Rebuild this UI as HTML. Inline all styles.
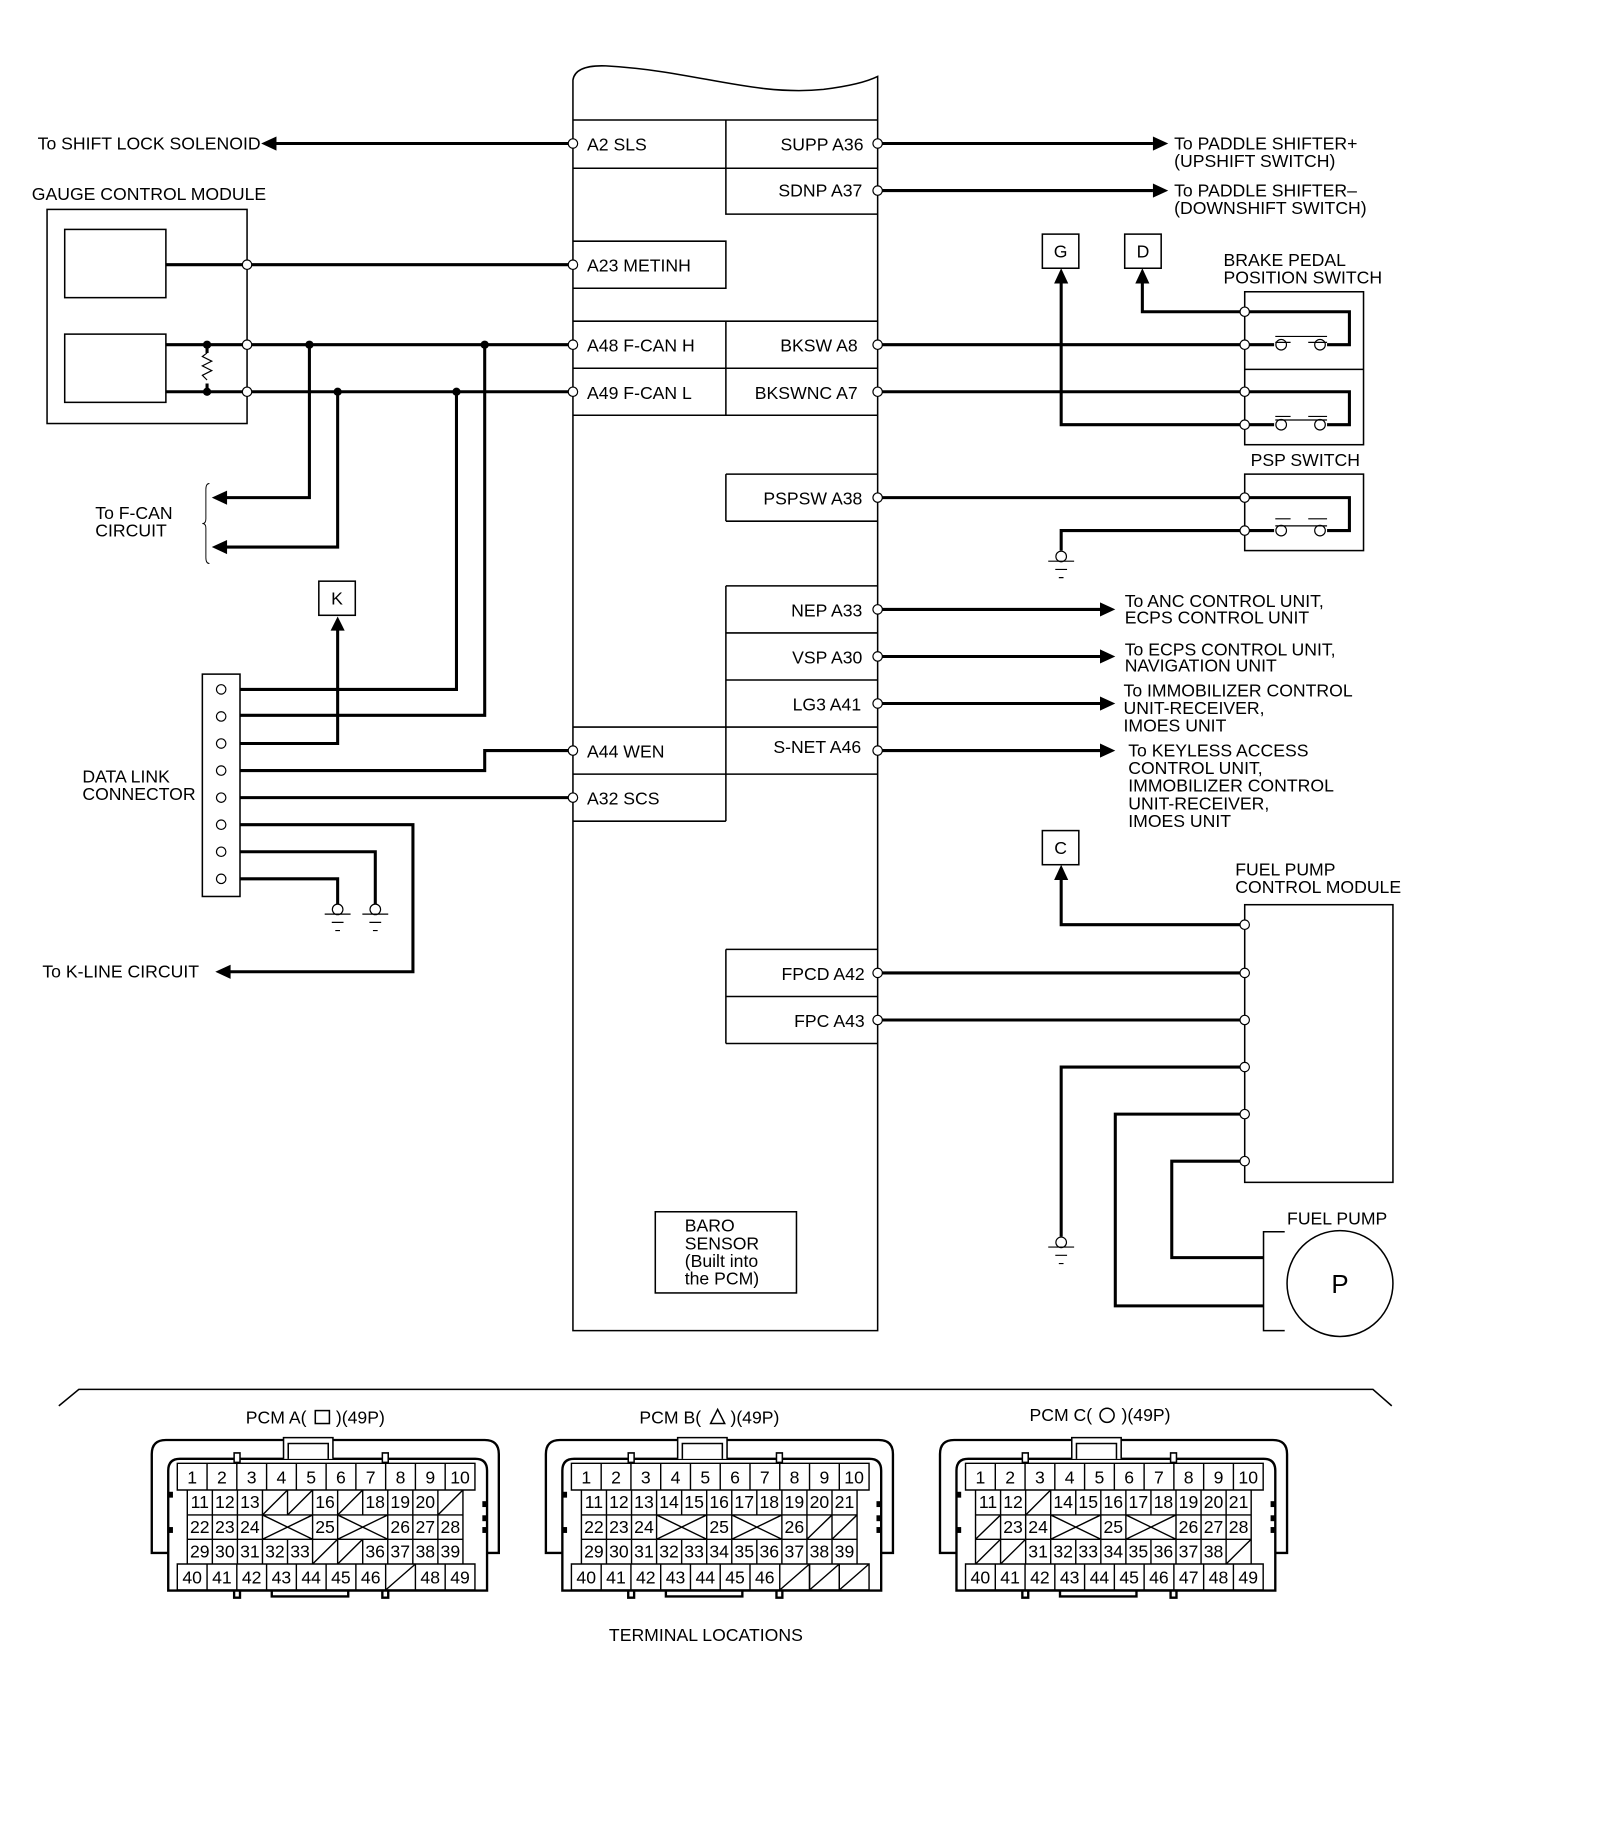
<!DOCTYPE html>
<html><head><meta charset="utf-8"><style>
html,body{margin:0;padding:0;background:#fff}
svg{display:block}
text{font-family:"Liberation Sans",Arial,sans-serif;fill:#000}
.t{font-size:15px}
.c{font-size:15px;text-anchor:middle}
.w{stroke:#000;stroke-width:2.6;fill:none}
.b{stroke:#000;stroke-width:1.3;fill:none}
.o{stroke:#000;stroke-width:1;fill:#fff}
</style></head><body>
<svg width="1600" height="1838" viewBox="0 0 1360 1562.3" preserveAspectRatio="none" xmlns="http://www.w3.org/2000/svg">
<rect width="1360" height="1563" fill="#fff"/>
<path class="b" d="M487,1131 L487,68 Q489,55 515,56 C590,60 640,82 700,76 Q732,72 746,65 L746,1131 Z"/>
<path class="b" d="M487,102H746 M487,143H746 M617,102V143 M617,143V182H746 M487,205H617V245H487 M487,273H746 M487,313H746 M487,353H746 M617,273V353 M617,403H746 M617,443H746 M617,403V443 M617,498H746 M617,538H746 M617,578H746 M487,618H746 M487,658H746 M487,698H617 M617,498V698 M617,807H746 M617,847H746 M617,887H746 M617,807V887"/>
<rect class="b" x="557" y="1030" width="120" height="69"/>
<text class="t" x="582" y="1047">BARO</text><text class="t" x="582" y="1062">SENSOR</text><text class="t" x="582" y="1077">(Built into</text><text class="t" x="582" y="1092">the PCM)</text>
<text class="t" x="499" y="128">A2 SLS</text>
<text class="t" x="499" y="231">A23 METINH</text>
<text class="t" x="499" y="299">A48 F-CAN H</text>
<text class="t" x="499" y="339">A49 F-CAN L</text>
<text class="t" x="499" y="644">A44 WEN</text>
<text class="t" x="499" y="684">A32 SCS</text>
<g text-anchor="end">
<text class="t" x="734" y="128">SUPP A36</text>
<text class="t" x="733" y="167">SDNP A37</text>
<text class="t" x="729" y="299">BKSW A8</text>
<text class="t" x="729" y="339">BKSWNC A7</text>
<text class="t" x="733" y="429">PSPSW A38</text>
<text class="t" x="733" y="524">NEP A33</text>
<text class="t" x="733" y="564">VSP A30</text>
<text class="t" x="732" y="604">LG3 A41</text>
<text class="t" x="732" y="640">S-NET A46</text>
<text class="t" x="735" y="833">FPCD A42</text>
<text class="t" x="735" y="873">FPC A43</text>
</g>
<path class="w" d="M232,122H487 M141,225H487 M141,293H487 M141,333H487 M263,293V423H192 M287,333V465H192 M412,293V608H204 M388,333V586H204 M204,632H287V535 M204,655H412V638H487 M204,678H487 M204,701H351V826H195 M204,724H319V770 M204,747H287V770 M176,293V300 M176,326V333"/>
<path d="M176,300 l-4,3 8,4 -8,4 8,4 -8,4 4,4" stroke="#000" stroke-width="1" fill="none"/>
<g fill="#000"><circle cx="176" cy="293" r="3.5"/><circle cx="176" cy="333" r="3.5"/><circle cx="263" cy="293" r="3.5"/><circle cx="412" cy="293" r="3.5"/><circle cx="287" cy="333" r="3.5"/><circle cx="388" cy="333" r="3.5"/>
<polygon points="222,122 235,116 235,128"/><polygon points="180,423 193,417 193,429"/><polygon points="180,465 193,459 193,471"/><polygon points="287,524 281,536 293,536"/><polygon points="183,826 196,820 196,832"/></g>
<text class="t" x="32" y="127">To SHIFT LOCK SOLENOID</text>
<text class="t" x="27" y="170">GAUGE CONTROL MODULE</text>
<rect class="b" x="40" y="178" width="170" height="182"/>
<rect class="b" x="55" y="195" width="86" height="58"/>
<rect class="b" x="55" y="284" width="86" height="58"/>
<path d="M178,411 q-3,0 -3,5 v25 q0,4 -3,4 q3,0 3,4 v25 q0,5 3,5" stroke="#000" stroke-width="0.8" fill="none"/>
<text class="t" x="81" y="441">To F-CAN</text><text class="t" x="81" y="456">CIRCUIT</text>
<rect class="b" x="271" y="494" width="31" height="29"/><text class="c" x="286.5" y="514">K</text>
<rect class="b" x="172" y="573" width="32" height="189"/>
<text class="t" x="70" y="665">DATA LINK</text><text class="t" x="70" y="680">CONNECTOR</text>
<text class="t" x="36" y="831">To K-LINE CIRCUIT</text>
<g class="o"><circle cx="188" cy="586" r="4"/><circle cx="188" cy="609" r="4"/><circle cx="188" cy="632" r="4"/><circle cx="188" cy="655" r="4"/><circle cx="188" cy="678" r="4"/><circle cx="188" cy="701" r="4"/><circle cx="188" cy="724" r="4"/><circle cx="188" cy="747" r="4"/>
<circle cx="210" cy="225" r="4"/><circle cx="210" cy="293" r="4"/><circle cx="210" cy="333" r="4"/></g>
<g stroke="#000" fill="#fff" stroke-width="1">
<circle cx="287" cy="773" r="4.5"/><path d="M276,777H298 M282,784H292 M285,791H289"/>
<circle cx="319" cy="773" r="4.5"/><path d="M308,777H330 M314,784H324 M317,791H321"/>
<circle cx="902" cy="473" r="4.5"/><path d="M891,477H913 M897,484H907 M900,491H904"/>
<circle cx="902" cy="1056" r="4.5"/><path d="M891,1060H913 M897,1067H907 M900,1074H904"/>
</g>
<path class="w" d="M746,122H980 M746,162H980 M746,293H1058 M746,333H1058 M746,423H1058 M746,518H936 M746,558H936 M746,598H936 M746,638H936 M746,827H1058 M746,867H1058
M1058,265H971V240 M1058,361H902V240 M1058,451H902V468 M1058,786H902V746 M1058,907H902V1051 M1058,947H948V1110H1074 M1058,987H996V1069H1074
M1058,265H1147V293H1128 M1058,293H1083 M1058,333H1147V361H1128 M1058,361H1083 M1058,423H1147V451H1128 M1058,451H1083"/>
<g fill="#000"><polygon points="993,122 980,116 980,128"/><polygon points="993,162 980,156 980,168"/>
<polygon points="948,518 935,512 935,524"/><polygon points="948,558 935,552 935,564"/><polygon points="948,598 935,592 935,604"/><polygon points="948,638 935,632 935,644"/>
<polygon points="902,228 896,241 908,241"/><polygon points="971,228 965,241 977,241"/><polygon points="902,735 896,748 908,748"/></g>
<g class="o"><circle cx="1089" cy="293" r="4.5"/><circle cx="1122" cy="293" r="4.5"/><circle cx="1089" cy="361" r="4.5"/><circle cx="1122" cy="361" r="4.5"/><circle cx="1089" cy="451" r="4.5"/><circle cx="1122" cy="451" r="4.5"/></g>
<path stroke="#000" stroke-width="1" d="M1084,286H1128 M1084,291H1097 M1112,291H1128 M1084,354H1097 M1112,354H1128 M1084,357H1128 M1084,441H1097 M1112,441H1128 M1084,447H1128"/>
<rect class="b" x="1058" y="248" width="101" height="130"/><path class="b" d="M1058,314H1159"/>
<rect class="b" x="1058" y="403" width="101" height="65"/>
<rect class="b" x="1058" y="769" width="126" height="236"/>
<g class="o"><circle cx="746" cy="122" r="4"/><circle cx="746" cy="162" r="4"/><circle cx="746" cy="293" r="4"/><circle cx="746" cy="333" r="4"/><circle cx="746" cy="423" r="4"/><circle cx="746" cy="518" r="4"/><circle cx="746" cy="558" r="4"/><circle cx="746" cy="598" r="4"/><circle cx="746" cy="638" r="4"/><circle cx="746" cy="827" r="4"/><circle cx="746" cy="867" r="4"/>
<circle cx="487" cy="122" r="4"/><circle cx="487" cy="225" r="4"/><circle cx="487" cy="293" r="4"/><circle cx="487" cy="333" r="4"/><circle cx="487" cy="638" r="4"/><circle cx="487" cy="678" r="4"/>
<circle cx="1058" cy="265" r="4"/><circle cx="1058" cy="293" r="4"/><circle cx="1058" cy="333" r="4"/><circle cx="1058" cy="361" r="4"/><circle cx="1058" cy="423" r="4"/><circle cx="1058" cy="451" r="4"/>
<circle cx="1058" cy="786" r="4"/><circle cx="1058" cy="827" r="4"/><circle cx="1058" cy="867" r="4"/><circle cx="1058" cy="907" r="4"/><circle cx="1058" cy="947" r="4"/><circle cx="1058" cy="987" r="4"/></g>
<rect class="b" x="886" y="199" width="31" height="29"/><text class="c" x="901.5" y="219">G</text>
<rect class="b" x="956" y="199" width="31" height="29"/><text class="c" x="971.5" y="219">D</text>
<rect class="b" x="886" y="706" width="31" height="29"/><text class="c" x="901.5" y="726">C</text>
<text class="t" x="998" y="127">To PADDLE SHIFTER+</text><text class="t" x="998" y="142">(UPSHIFT SWITCH)</text>
<text class="t" x="998" y="167">To PADDLE SHIFTER–</text><text class="t" x="998" y="182">(DOWNSHIFT SWITCH)</text>
<text class="t" x="1040" y="226">BRAKE PEDAL</text><text class="t" x="1040" y="241">POSITION SWITCH</text>
<text class="t" x="1063" y="396">PSP SWITCH</text>
<text class="t" x="956" y="516">To ANC CONTROL UNIT,</text><text class="t" x="956" y="530">ECPS CONTROL UNIT</text>
<text class="t" x="956" y="557">To ECPS CONTROL UNIT,</text><text class="t" x="956" y="571">NAVIGATION UNIT</text>
<text class="t" x="955" y="592">To IMMOBILIZER CONTROL</text><text class="t" x="955" y="607">UNIT-RECEIVER,</text><text class="t" x="955" y="622">IMOES UNIT</text>
<text class="t" x="959" y="643">To KEYLESS ACCESS</text><text class="t" x="959" y="658">CONTROL UNIT,</text><text class="t" x="959" y="673">IMMOBILIZER CONTROL</text><text class="t" x="959" y="688">UNIT-RECEIVER,</text><text class="t" x="959" y="703">IMOES UNIT</text>
<text class="t" x="1050" y="744">FUEL PUMP</text><text class="t" x="1050" y="759">CONTROL MODULE</text>
<text class="t" x="1094" y="1041">FUEL PUMP</text>
<path class="b" d="M1092,1047H1074V1131H1092"/>
<circle class="b" cx="1139" cy="1091" r="45"/>
<text x="1139" y="1099" font-size="22" text-anchor="middle">P</text>
<path class="b" d="M50,1195L67,1181H1167L1183,1195"/>
<text class="c" x="268" y="1210">PCM A(&#160;&#160;&#160;&#160;&#160;&#160;)(49P)</text><rect class="b" x="268" y="1199" width="12" height="11"/>
<text class="c" x="603" y="1210">PCM B(&#160;&#160;&#160;&#160;&#160;&#160;)(49P)</text><polygon class="b" points="610,1198 616,1210 604,1210"/>
<text class="c" x="935" y="1208">PCM C(&#160;&#160;&#160;&#160;&#160;&#160;)(49P)</text><circle class="b" cx="941" cy="1203" r="6"/>
<text class="c" x="600" y="1395">TERMINAL LOCATIONS</text>
<defs>
<g id="shell">
<path stroke="#000" stroke-width="2" fill="none" d="M143,1320H129V1236Q129,1224 141,1224H412Q424,1224 424,1236V1320H414"/>
<path stroke="#000" stroke-width="2" fill="none" d="M143,1352V1250Q143,1240 153,1240H404Q414,1240 414,1250V1352Z"/>
<path stroke="#000" stroke-width="1.3" fill="#fff" d="M241,1240V1222H283V1240 M245,1240V1227H279V1240 M199,1235h5v8h-5z M325,1235h5v8h-5z"/>
<path stroke="#000" stroke-width="2" fill="none" d="M199,1352v6h5v-6 M325,1352v6h5v-6 M231,1352v5h65v-5"/>
<g fill="#000"><rect x="143" y="1268" width="4" height="5"/><rect x="143" y="1298" width="4" height="5"/><rect x="410" y="1276" width="4" height="5"/><rect x="410" y="1288" width="4" height="5"/><rect x="410" y="1298" width="4" height="5"/></g>
<path stroke="#000" stroke-width="1.2" fill="none" d="M150.7,1243.8H403.7V1266.5H150.7Z M150.7,1329.4H403.7V1351.5H150.7Z M159.2,1266.5V1329.4H393.5V1266.5 M159.2,1287.7H393.5 M159.2,1308.4H393.5
M176,1243.8V1266.5M201.3,1243.8V1266.5M226.6,1243.8V1266.5M251.9,1243.8V1266.5M277.2,1243.8V1266.5M302.5,1243.8V1266.5M327.8,1243.8V1266.5M353.1,1243.8V1266.5M378.4,1243.8V1266.5
M176,1329.4V1351.5M201.3,1329.4V1351.5M226.6,1329.4V1351.5M251.9,1329.4V1351.5M277.2,1329.4V1351.5M302.5,1329.4V1351.5M327.8,1329.4V1351.5M353.1,1329.4V1351.5M378.4,1329.4V1351.5
M180.5,1266.5V1329.4M201.8,1266.5V1329.4M223.1,1266.5V1329.4M244.4,1266.5V1287.7M244.4,1308.4V1329.4M265.7,1266.5V1329.4M287,1266.5V1329.4M308.3,1266.5V1287.7M308.3,1308.4V1329.4M329.6,1266.5V1329.4M350.9,1266.5V1329.4M372.2,1266.5V1329.4
M223.1,1308.4L265.7,1287.7M223.1,1287.7L265.7,1308.4M287,1308.4L329.6,1287.7M287,1287.7L329.6,1308.4"/>
<g class="c"><text x="163.3" y="1261">1</text><text x="188.6" y="1261">2</text><text x="213.9" y="1261">3</text><text x="239.2" y="1261">4</text><text x="264.5" y="1261">5</text><text x="289.8" y="1261">6</text><text x="315.1" y="1261">7</text><text x="340.4" y="1261">8</text><text x="365.7" y="1261">9</text><text x="391" y="1261">10</text>
<text x="163.3" y="1346">40</text><text x="188.6" y="1346">41</text><text x="213.9" y="1346">42</text><text x="239.2" y="1346">43</text><text x="264.5" y="1346">44</text><text x="289.8" y="1346">45</text><text x="315.1" y="1346">46</text></g>
</g>
</defs>
<use href="#shell"/>
<g class="c">
<text x="169.8" y="1282">11</text><text x="191.1" y="1282">12</text><text x="212.4" y="1282">13</text><text x="276.3" y="1282">16</text><text x="318.9" y="1282">18</text><text x="340.2" y="1282">19</text><text x="361.5" y="1282">20</text>
<text x="169.8" y="1303">22</text><text x="191.1" y="1303">23</text><text x="212.4" y="1303">24</text><text x="276.3" y="1303">25</text><text x="340.2" y="1303">26</text><text x="361.5" y="1303">27</text><text x="382.8" y="1303">28</text>
<text x="169.8" y="1324">29</text><text x="191.1" y="1324">30</text><text x="212.4" y="1324">31</text><text x="233.7" y="1324">32</text><text x="255" y="1324">33</text><text x="318.9" y="1324">36</text><text x="340.2" y="1324">37</text><text x="361.5" y="1324">38</text><text x="382.8" y="1324">39</text>
<text x="365.7" y="1346">48</text><text x="391" y="1346">49</text></g>
<path stroke="#000" stroke-width="1.2" d="M223.1,1287.7L244.4,1266.5M244.4,1287.7L265.7,1266.5M287,1287.7L308.3,1266.5M372.2,1287.7L393.5,1266.5M265.7,1329.4L287,1308.4M287,1329.4L308.3,1308.4M327.8,1351.5L353.1,1329.4"/>
<g transform="translate(335,0)">
<use href="#shell"/>
<g class="c">
<text x="169.8" y="1282">11</text><text x="191.1" y="1282">12</text><text x="212.4" y="1282">13</text><text x="233.7" y="1282">14</text><text x="255" y="1282">15</text><text x="276.3" y="1282">16</text><text x="297.6" y="1282">17</text><text x="318.9" y="1282">18</text><text x="340.2" y="1282">19</text><text x="361.5" y="1282">20</text><text x="382.8" y="1282">21</text>
<text x="169.8" y="1303">22</text><text x="191.1" y="1303">23</text><text x="212.4" y="1303">24</text><text x="276.3" y="1303">25</text><text x="340.2" y="1303">26</text>
<text x="169.8" y="1324">29</text><text x="191.1" y="1324">30</text><text x="212.4" y="1324">31</text><text x="233.7" y="1324">32</text><text x="255" y="1324">33</text><text x="276.3" y="1324">34</text><text x="297.6" y="1324">35</text><text x="318.9" y="1324">36</text><text x="340.2" y="1324">37</text><text x="361.5" y="1324">38</text><text x="382.8" y="1324">39</text></g>
<path stroke="#000" stroke-width="1.2" d="M350.9,1308.4L372.2,1287.7M372.2,1308.4L393.5,1287.7M327.8,1351.5L353.1,1329.4M353.1,1351.5L378.4,1329.4M378.4,1351.5L403.7,1329.4M353.1,1329.4V1351.5M378.4,1329.4V1351.5"/>
</g>
<g transform="translate(670,0)">
<use href="#shell"/>
<g class="c">
<text x="169.8" y="1282">11</text><text x="191.1" y="1282">12</text><text x="233.7" y="1282">14</text><text x="255" y="1282">15</text><text x="276.3" y="1282">16</text><text x="297.6" y="1282">17</text><text x="318.9" y="1282">18</text><text x="340.2" y="1282">19</text><text x="361.5" y="1282">20</text><text x="382.8" y="1282">21</text>
<text x="191.1" y="1303">23</text><text x="212.4" y="1303">24</text><text x="276.3" y="1303">25</text><text x="340.2" y="1303">26</text><text x="361.5" y="1303">27</text><text x="382.8" y="1303">28</text>
<text x="212.4" y="1324">31</text><text x="233.7" y="1324">32</text><text x="255" y="1324">33</text><text x="276.3" y="1324">34</text><text x="297.6" y="1324">35</text><text x="318.9" y="1324">36</text><text x="340.2" y="1324">37</text><text x="361.5" y="1324">38</text>
<text x="340.4" y="1346">47</text><text x="365.7" y="1346">48</text><text x="391" y="1346">49</text></g>
<path stroke="#000" stroke-width="1.2" d="M201.8,1287.7L223.1,1266.5M159.2,1308.4L180.5,1287.7M159.2,1329.4L180.5,1308.4M180.5,1329.4L201.8,1308.4M372.2,1329.4L393.5,1308.4"/>
</g>
</svg>
</body></html>
